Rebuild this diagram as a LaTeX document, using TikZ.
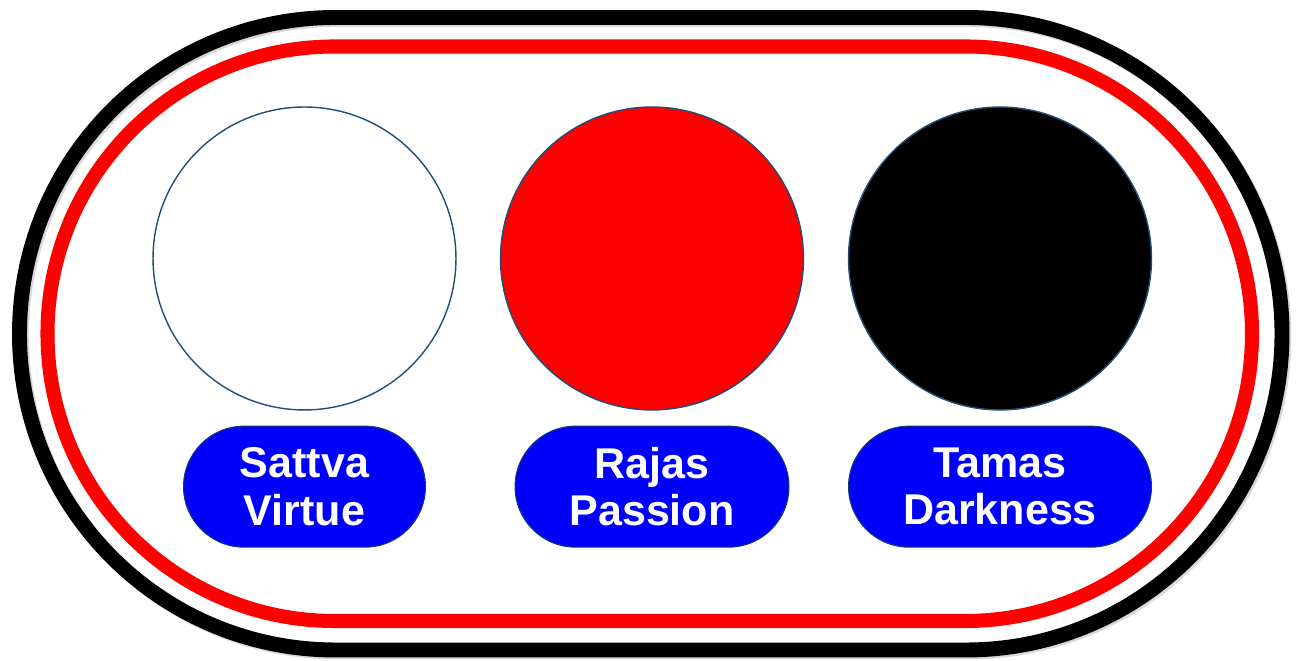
\documentclass[tikz,border=0pt]{standalone}
\usepackage{fontspec}
\setmainfont{Liberation Sans}
\usepackage{tikz}
\usetikzlibrary{positioning,shapes.misc}
\definecolor{gunaedge}{RGB}{31,78,121}
\definecolor{pillblue}{RGB}{0,0,255}
\definecolor{pilledge}{RGB}{20,60,110}

\begin{document}
\begin{tikzpicture}[x=0.02cm, y=0.02cm,
  guna/.style={circle, draw=gunaedge, line width=0.8pt, fill=#1,
               minimum size=6.06cm, inner sep=0pt},
  pill/.style={rounded rectangle, draw=pilledge, line width=0.6pt, fill=pillblue,
               text=white, font=\fontsize{24.5}{27}\selectfont\bfseries,
               minimum height=2.42cm, minimum width=#1, align=center, inner sep=0pt},
]
\useasboundingbox (0,0) rectangle (1299,661);

% outer frame with its shadow
\draw[gray!30, line width=8.5pt, rounded corners=316*0.02cm]
  (21.5,9) rectangle (1284,641.5);
\draw[black, line width=8.5pt, rounded corners=316*0.02cm]
  (19.5,11) rectangle (1282,643.5);
\draw[red, line width=8pt, rounded corners=287*0.02cm]
  (47.5,40) rectangle (1252,614.5);

\node[guna=white] (sattva) at (304.5,402.5) {};
\node[guna=red]   (rajas)  at (652,402.5)   {};
\node[guna=black] (tamas)  at (1000,402.5)  {};

\node[pill=4.84cm, below=0.3cm of sattva] (sattvalbl) {Sattva\\Virtue};
\node[pill=5.48cm, below=0.3cm of rajas]  (rajaslbl)  {Rajas\\Passion};
\node[pill=6.06cm, below=0.3cm of tamas]  (tamaslbl)  {Tamas\\Darkness};
\end{tikzpicture}
\end{document}
